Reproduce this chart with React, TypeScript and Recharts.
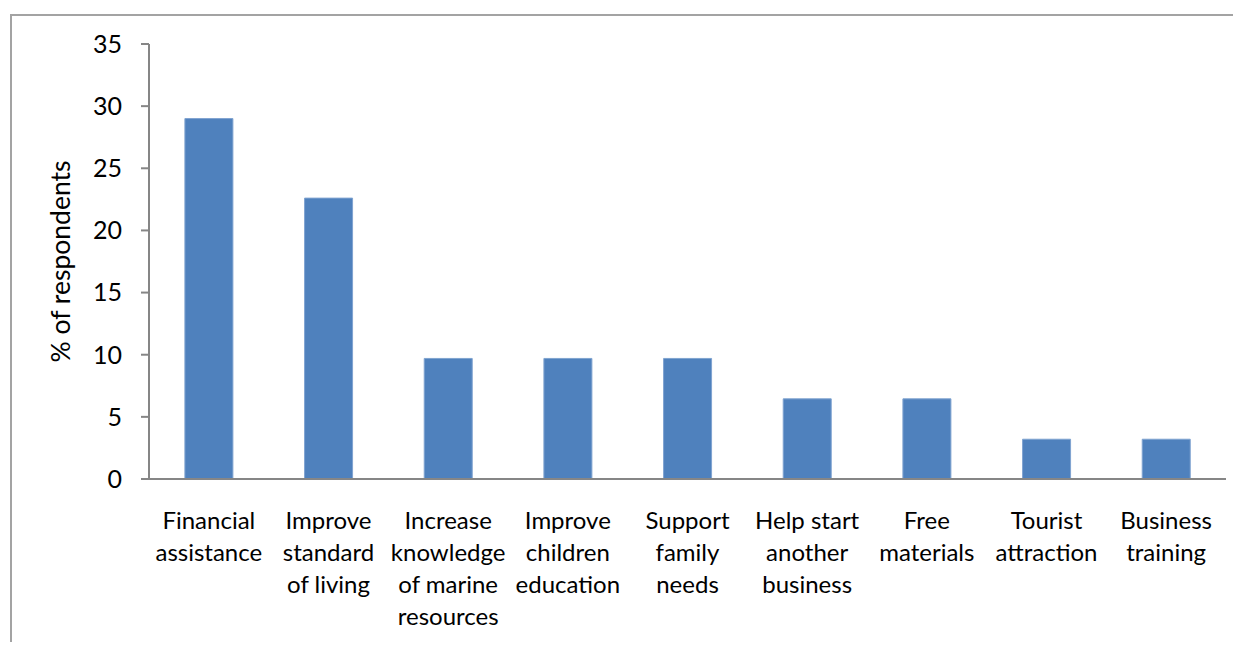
import { BarChart, Bar, XAxis, YAxis } from 'recharts';

const categories = [
  'Financial assistance',
  'Improve standard of living',
  'Increase knowledge of marine resources',
  'Improve children education',
  'Support family needs',
  'Help start another business',
  'Free materials',
  'Tourist attraction',
  'Business training',
];

const tickLines = [
  ['Financial', 'assistance'],
  ['Improve', 'standard', 'of living'],
  ['Increase', 'knowledge', 'of marine', 'resources'],
  ['Improve', 'children', 'education'],
  ['Support', 'family', 'needs'],
  ['Help start', 'another', 'business'],
  ['Free', 'materials'],
  ['Tourist', 'attraction'],
  ['Business', 'training'],
];

const respondents = [29.0, 22.6, 9.7, 9.7, 9.7, 6.45, 6.45, 3.2, 3.2];

const yTicks = [0, 5, 10, 15, 20, 25, 30, 35];
const edgeTicks = [0, 1, 2, 3, 4, 5, 6, 7, 8, 9];

const data = categories.map((name, i) => ({ name, value: respondents[i], idx: i }));

const FONT = 'Lato, "Open Sans", sans-serif';
const AXIS = '#868686';

function CategoryTick({ x, y, index }: any) {
  const lines = tickLines[index] || [];
  return (
    <text x={x} y={y + 41} textAnchor="middle" fontFamily={FONT} fontSize={24} fill="#000">
      {lines.map((l, i) => (
        <tspan key={i} x={x} dy={i === 0 ? 0 : 32}>{l}</tspan>
      ))}
    </text>
  );
}

function YLabel({ viewBox }: any) {
  const cx = 60;
  const cy = viewBox.y + viewBox.height / 2;
  return (
    <text x={cx} y={cy} transform={`rotate(-90 ${cx} ${cy})`} textAnchor="middle" dominantBaseline="central"
      fontFamily={FONT} fontSize={26.5} fill="#000">
      % of respondents
    </text>
  );
}

export default function App() {
  return (
    <div style={{ position: 'relative', width: 1241, height: 650, margin: -8, background: '#fff' }}>
      <div style={{ position: 'absolute', left: 10, top: 14, right: 0, bottom: 0, borderLeft: '2px solid #a3a3a3', borderTop: '2px solid #a3a3a3' }} />
      <div style={{ position: 'absolute', left: 0, top: 0 }}>
        <BarChart width={1241} height={650} data={data} barCategoryGap="30%"
          margin={{ top: 44, right: 15, bottom: 20, left: 0 }}>
          <XAxis xAxisId={0} type="number" dataKey="idx" domain={[0, 9]} ticks={edgeTicks} tick={false}
            height={1} stroke={AXIS} strokeWidth={2} tickSize={6} allowDataOverflow />
          <XAxis xAxisId={1} dataKey="name" type="category" axisLine={false} tickLine={false}
            interval={0} height={150} tick={<CategoryTick />} />
          <YAxis domain={[0, 35]} ticks={yTicks} width={149} stroke={AXIS} strokeWidth={2} tickSize={8} tickMargin={19}
            tick={{ fontFamily: FONT, fontSize: 25, fill: '#000' }} label={<YLabel />} />
          <Bar xAxisId={1} dataKey="value" fill="#4F81BD" stroke="#7fa3d0" strokeWidth={1} isAnimationActive={false} />
        </BarChart>
      </div>
    </div>
  );
}
